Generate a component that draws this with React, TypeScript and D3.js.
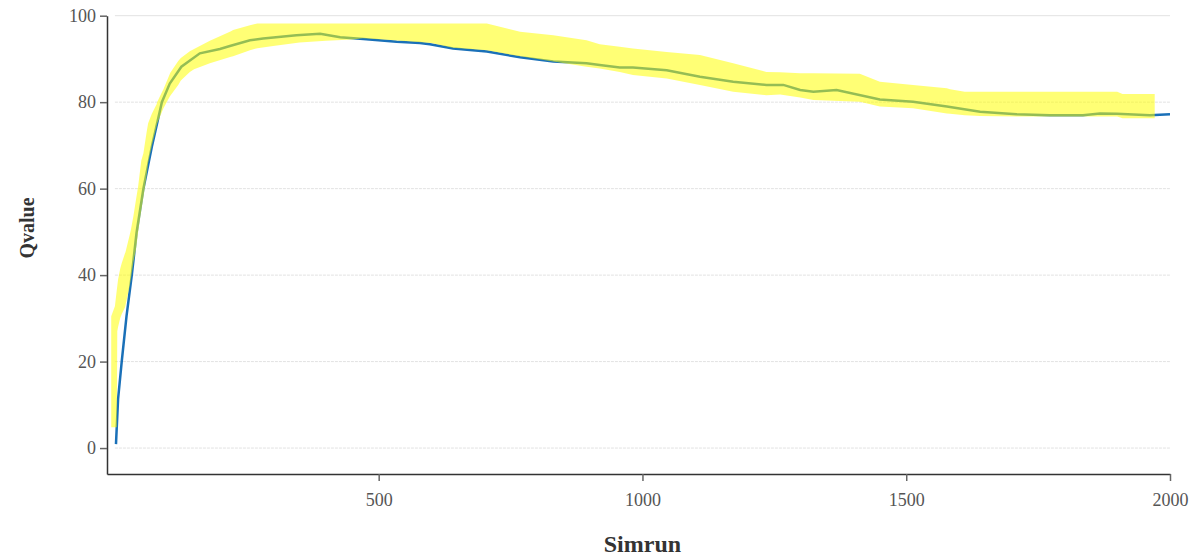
import React, { useEffect, useRef } from "react";
import * as d3 from "d3";

// mean Qvalue per simrun
const lineRuns = [2, 6, 13, 22, 32, 41, 54, 70, 89, 104, 126, 161, 199, 218, 256, 281, 344, 389, 427, 471, 534, 578, 597, 641, 705, 768, 831, 894, 919, 957, 982, 1046, 1109, 1172, 1235, 1267, 1299, 1324, 1368, 1450, 1513, 1577, 1640, 1709, 1772, 1835, 1867, 1899, 1962, 2000];
const lineValues = [0.9, 11.3, 20.1, 30.5, 40, 49.8, 60, 69.7, 80, 84.3, 88.2, 91.3, 92.3, 93, 94.3, 94.7, 95.5, 95.8, 95.0, 94.6, 94.0, 93.7, 93.4, 92.4, 91.7, 90.4, 89.4, 89.0, 88.6, 88.0, 88.0, 87.4, 85.9, 84.7, 84.0, 84.0, 82.8, 82.4, 82.8, 80.6, 80.1, 79.0, 77.8, 77.2, 77.0, 77.0, 77.4, 77.3, 77.0, 77.2];

// confidence band
const bandRuns = [-7, 0, 3.5, 4.5, 6, 10, 13, 19, 20, 28, 30, 35, 40, 44, 50, 54, 60, 63, 70, 79, 80, 90, 92, 104, 105, 120, 125, 142, 150, 180, 220, 224, 256, 270, 300, 350, 400, 450, 470, 530, 600, 640, 705, 768, 831, 894, 919, 957, 982, 1046, 1109, 1172, 1235, 1261, 1299, 1324, 1412, 1450, 1513, 1577, 1583, 1611, 1640, 1709, 1800, 1900, 1910, 1971];
const bandLow = [4.8, 4.8, 4.8, 27, 28, 30, 31, 32.5, 33, 37.5, 39, 43, 46, 50, 55, 58, 63, 66, 70, 74.5, 75, 78, 78.6, 81.3, 81.5, 84, 85, 87, 87.6, 89, 90.5, 90.6, 92, 92.5, 93, 93.8, 94.2, 94.5, 94.8, 94.3, 93.7, 92.6, 92, 90.6, 89.4, 88.2, 87.8, 87, 86.3, 85.5, 84.0, 82.4, 81.6, 81.8, 81.1, 80.5, 80.1, 79.0, 78.6, 77.4, 77.3, 77.0, 76.8, 76.7, 76.7, 76.7, 76.3, 76.3];
const bandHigh = [30.5, 32.8, 36.5, 37.5, 39, 41.5, 42.8, 45, 45.3, 49.3, 50.3, 53.6, 57.5, 60.5, 66.5, 68.2, 73, 75.1, 77.3, 79.5, 80, 82.5, 83, 86.5, 86.8, 89.5, 90.2, 91.8, 92.3, 94.2, 96.4, 96.7, 97.8, 98.2, 98.2, 98.2, 98.2, 98.2, 98.2, 98.2, 98.2, 98.2, 98.2, 96.3, 95.5, 94.3, 93.4, 92.8, 92.4, 91.6, 90.9, 89.0, 87.0, 86.9, 86.7, 86.7, 86.6, 84.7, 84.0, 83.2, 83.0, 82.4, 82.4, 82.4, 82.4, 82.4, 81.9, 81.9];

const xTicks = [500, 1000, 1500, 2000];
const yTicks = [0, 20, 40, 60, 80, 100];

export default function App() {
  const ref = useRef<SVGSVGElement>(null);

  useEffect(() => {
    const svg = d3.select(ref.current);
    svg.selectAll("*").remove();

    const x = d3.scaleLinear().domain([-15, 2000]).range([107, 1170]);
    const y = d3.scaleLinear().domain([-6, 100]).range([474, 15.7]);

    // grid
    svg
      .append("g")
      .selectAll("line")
      .data(yTicks)
      .enter()
      .append("line")
      .attr("x1", x(0))
      .attr("x2", x(2000))
      .attr("y1", (d: number) => y(d))
      .attr("y2", (d: number) => y(d))
      .style("stroke", "#e2e2e2")
      .style("stroke-width", 1)
      .style("stroke-dasharray", (d: number) => (d === 100 ? null : "3,1"));

    const lineData = lineRuns.map((r, i) => ({ r, v: lineValues[i] }));
    const bandData = bandRuns.map((r, i) => ({ r, lo: bandLow[i], hi: bandHigh[i] }));

    svg
      .append("path")
      .datum(lineData)
      .attr("d", d3.line<any>().x((d) => x(d.r)).y((d) => y(d.v)))
      .style("fill", "none")
      .style("stroke", "#1a70b8")
      .style("stroke-width", 2.5);

    svg
      .append("path")
      .datum(bandData)
      .attr(
        "d",
        d3
          .area<any>()
          .x((d) => x(d.r))
          .y0((d) => y(d.lo))
          .y1((d) => y(d.hi))
      )
      .style("fill", "#ffff00")
      .style("opacity", 0.54);

    // axes
    const xAxis = svg
      .append("g")
      .attr("transform", "translate(0,474)")
      .call(d3.axisBottom(x).tickValues(xTicks).tickSize(7).tickSizeOuter(0).tickPadding(12).tickFormat(d3.format("d")));
    const yAxis = svg
      .append("g")
      .attr("transform", "translate(107,0)")
      .call(d3.axisLeft(y).tickValues(yTicks).tickSize(7).tickSizeOuter(0).tickPadding(4).tickFormat(d3.format("d")));

    [xAxis, yAxis].forEach((a) => {
      a.select(".domain").style("stroke", "#333").style("stroke-width", 1.5);
      a.selectAll(".tick line").style("stroke", "#666").style("stroke-width", 1.5);
      a.selectAll(".tick text")
        .style("font-family", "'Liberation Serif', serif")
        .style("font-size", "18px")
        .style("fill", "#555");
    });

    svg
      .append("text")
      .attr("x", (x(0) + x(2000)) / 2)
      .attr("y", 552)
      .style("text-anchor", "middle")
      .style("font-family", "'Liberation Serif', serif")
      .style("font-weight", "bold")
      .style("font-size", "24px")
      .style("fill", "#333")
      .text("Simrun");

    svg
      .append("text")
      .attr("transform", "translate(34,228) rotate(-90)")
      .style("text-anchor", "middle")
      .style("font-family", "'Liberation Serif', serif")
      .style("font-weight", "bold")
      .style("font-size", "20px")
      .style("fill", "#333")
      .text("Qvalue");
  }, []);

  return (
    <svg
      ref={ref}
      width={1196}
      height={557}
      style={{ position: "absolute", left: 0, top: 0, background: "#fff" }}
    />
  );
}
